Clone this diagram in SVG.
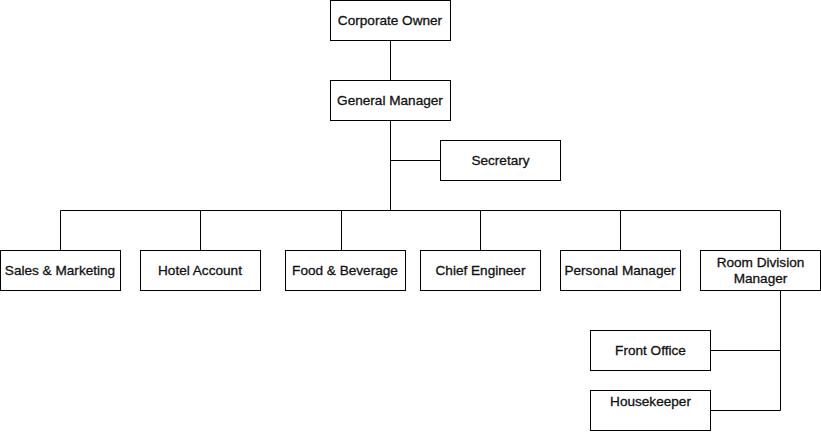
<svg xmlns="http://www.w3.org/2000/svg" width="821" height="432" viewBox="0 0 821 432">
<style>
.box{fill:#fff;stroke:#000;stroke-width:1}
.t{font-family:"Liberation Sans",Arial,sans-serif;font-size:13.6px;fill:#111;stroke:#111;stroke-width:0.3;text-anchor:middle}
.c{fill:none;stroke:#000;stroke-width:1}
</style>
<rect width="821" height="432" fill="#fff"/>
<g id="connectors">
<path class="c" d="M390.5 40V80"/>
<path class="c" d="M390.5 120V210.5"/>
<path class="c" d="M390.5 160.5H440"/>
<path class="c" d="M60.5 250V210.5H780.5V250"/>
<path class="c" d="M200.5 210.5V250"/>
<path class="c" d="M341.5 210.5V250"/>
<path class="c" d="M480.5 210.5V250"/>
<path class="c" d="M620.5 210.5V250"/>
<path class="c" d="M780.5 290V410.5H710"/>
<path class="c" d="M710 350.5H780.5"/>
</g>
<g id="corporate-owner"><rect class="box" x="330.5" y="0.5" width="120" height="40"/><text class="t" x="390" y="25">Corporate Owner</text></g>
<g id="general-manager"><rect class="box" x="330.5" y="80.5" width="120" height="40"/><text class="t" x="390" y="105">General Manager</text></g>
<g id="secretary"><rect class="box" x="440.5" y="140.5" width="120" height="40"/><text class="t" x="500.5" y="165">Secretary</text></g>
<g id="sales-marketing"><rect class="box" x="0.5" y="250.5" width="120" height="40"/><text class="t" x="60" y="275">Sales &amp; Marketing</text></g>
<g id="hotel-account"><rect class="box" x="140.5" y="250.5" width="120" height="40"/><text class="t" x="200" y="275">Hotel Account</text></g>
<g id="food-beverage"><rect class="box" x="285.5" y="250.5" width="120" height="40"/><text class="t" x="345" y="275">Food &amp; Beverage</text></g>
<g id="chief-engineer"><rect class="box" x="420.5" y="250.5" width="120" height="40"/><text class="t" x="480.5" y="275">Chief Engineer</text></g>
<g id="personal-manager"><rect class="box" x="560.5" y="250.5" width="120" height="40"/><text class="t" x="620" y="275">Personal Manager</text></g>
<g id="room-division-manager"><rect class="box" x="700.5" y="250.5" width="120" height="40"/><text class="t" x="760.5" y="267">Room Division</text><text class="t" x="760.5" y="283">Manager</text></g>
<g id="front-office"><rect class="box" x="590.5" y="330.5" width="120" height="40"/><text class="t" x="650.5" y="355">Front Office</text></g>
<g id="housekeeper"><rect class="box" x="590.5" y="390.5" width="120" height="40"/><text class="t" x="650.5" y="406">Housekeeper</text></g>
</svg>
